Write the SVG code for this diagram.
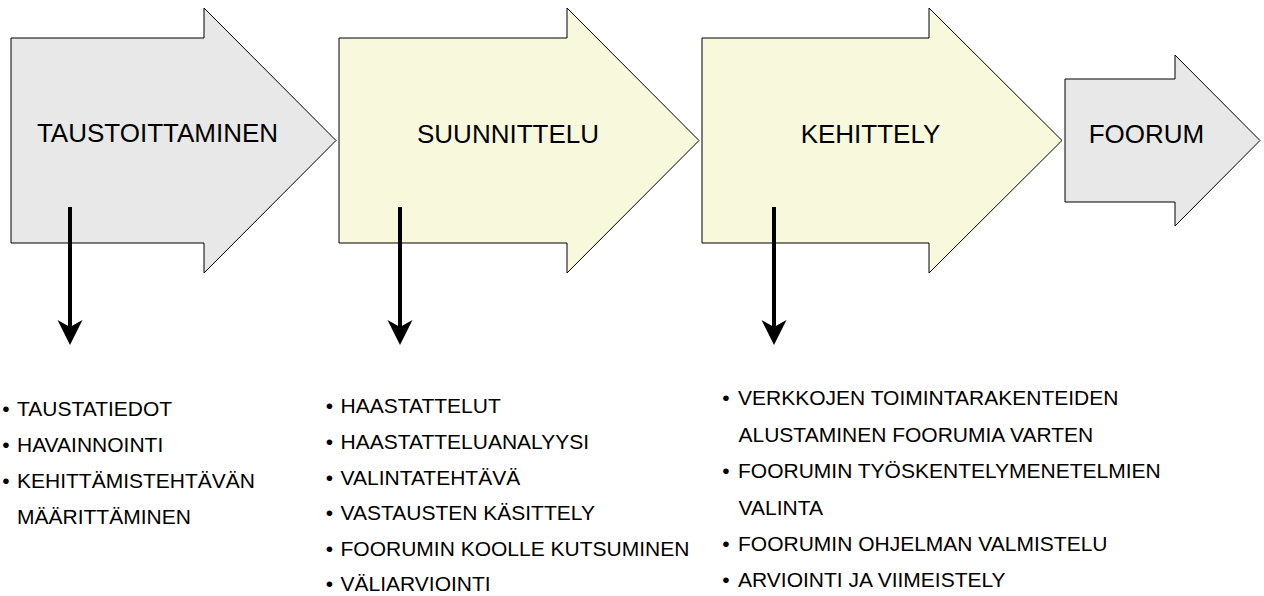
<svg xmlns="http://www.w3.org/2000/svg" width="1264" height="596" viewBox="0 0 1264 596">
<style>
.shape{stroke:#000;stroke-width:1;stroke-linejoin:miter}
.grey{fill:#e8e8e8}
.yellow{fill:#f8f8dc}
.title{font-family:"Liberation Sans",Arial,sans-serif;font-size:26px;fill:#000;text-anchor:middle}
.item{font-family:"Liberation Sans",Arial,sans-serif;font-size:21px;fill:#000}
.bul{font-family:"Liberation Sans",Arial,sans-serif;font-size:21px;fill:#000;text-anchor:middle}
.conn{stroke:#000;stroke-width:4;fill:none}
.head{fill:#000;stroke:none}
</style>
<rect width="1264" height="596" fill="#fff"/>
<g id="node-taustoittaminen">
<path class="shape grey" d="M11,38 L204,38 L204,8 L336,140.5 L204,273 L204,243 L11,243 Z"/>
<text class="title" x="157.5" y="142">TAUSTOITTAMINEN</text>
</g>
<g id="node-suunnittelu">
<path class="shape yellow" d="M339,38 L567,38 L567,8 L699,140.5 L567,273 L567,243 L339,243 Z"/>
<text class="title" x="508" y="143">SUUNNITTELU</text>
</g>
<g id="node-kehittely">
<path class="shape yellow" d="M702,38 L929,38 L929,8 L1062,140.5 L929,273 L929,243 L702,243 Z"/>
<text class="title" x="870.5" y="143">KEHITTELY</text>
</g>
<g id="node-foorum">
<path class="shape grey" d="M1065,79 L1175,79 L1175,55 L1260,140.5 L1175,226 L1175,202 L1065,202 Z"/>
<text class="title" x="1146.5" y="143">FOORUM</text>
</g>
<g id="connectors">
<line class="conn" x1="70" y1="207" x2="70" y2="330"/>
<path class="head" d="M70,345 L57.5,320 L70,327 L82.5,320 Z"/>
<line class="conn" x1="400" y1="207" x2="400" y2="330"/>
<path class="head" d="M400,345 L387.5,320 L400,327 L412.5,320 Z"/>
<line class="conn" x1="774" y1="207" x2="774" y2="330"/>
<path class="head" d="M774,345 L761.5,320 L774,327 L786.5,320 Z"/>
</g>
<g id="list-taustoittaminen">
<text class="bul" x="6" y="416">•</text><text class="item" x="17" y="416">TAUSTATIEDOT</text>
<text class="bul" x="6" y="452">•</text><text class="item" x="17" y="452">HAVAINNOINTI</text>
<text class="bul" x="6" y="488">•</text><text class="item" x="17" y="488">KEHITTÄMISTEHTÄVÄN</text>
<text class="item" x="17" y="524">MÄÄRITTÄMINEN</text>
</g>
<g id="list-suunnittelu">
<text class="bul" x="329.5" y="413">•</text><text class="item" x="340.5" y="413">HAASTATTELUT</text>
<text class="bul" x="329.5" y="449">•</text><text class="item" x="340.5" y="449">HAASTATTELUANALYYSI</text>
<text class="bul" x="329.5" y="484.5">•</text><text class="item" x="340.5" y="484.5">VALINTATEHTÄVÄ</text>
<text class="bul" x="329.5" y="520">•</text><text class="item" x="340.5" y="520">VASTAUSTEN KÄSITTELY</text>
<text class="bul" x="329.5" y="556">•</text><text class="item" x="340.5" y="556">FOORUMIN KOOLLE KUTSUMINEN</text>
<text class="bul" x="329.5" y="591">•</text><text class="item" x="340.5" y="591">VÄLIARVIOINTI</text>
</g>
<g id="list-kehittely">
<text class="bul" x="726" y="405">•</text><text class="item" x="738" y="405">VERKKOJEN TOIMINTARAKENTEIDEN</text>
<text class="item" x="738.5" y="442">ALUSTAMINEN FOORUMIA VARTEN</text>
<text class="bul" x="726" y="478">•</text><text class="item" x="738" y="478">FOORUMIN TYÖSKENTELYMENETELMIEN</text>
<text class="item" x="738.5" y="515">VALINTA</text>
<text class="bul" x="726" y="551">•</text><text class="item" x="738" y="551">FOORUMIN OHJELMAN VALMISTELU</text>
<text class="bul" x="726" y="587">•</text><text class="item" x="738" y="587">ARVIOINTI JA VIIMEISTELY</text>
</g>
</svg>
